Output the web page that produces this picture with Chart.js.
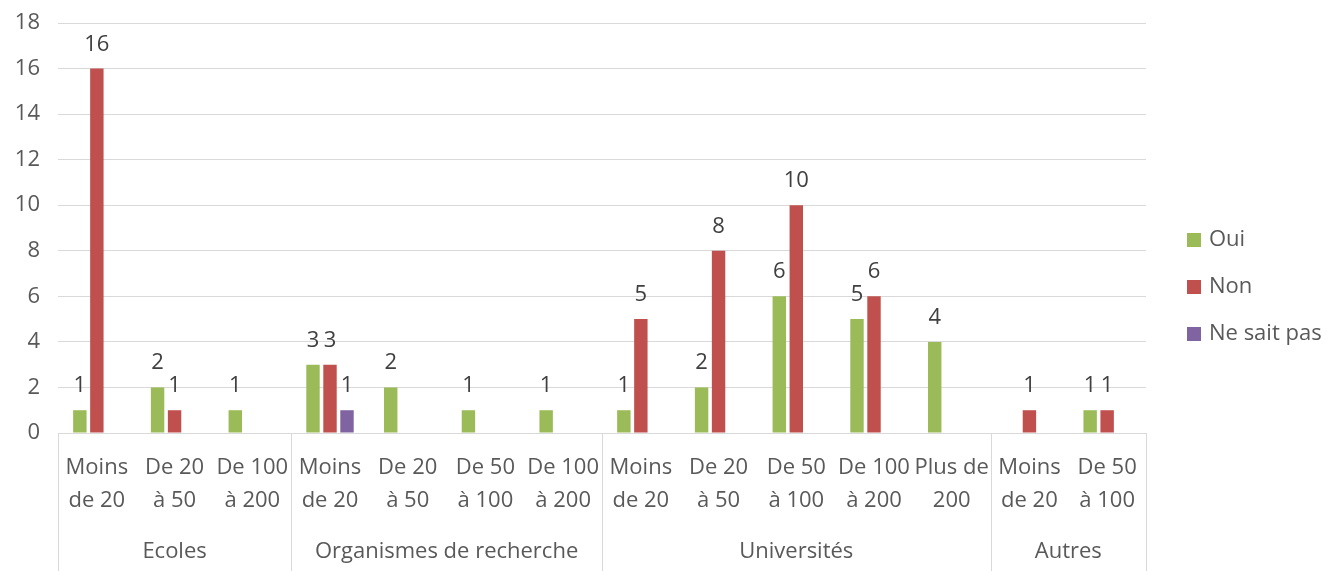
<!DOCTYPE html>
<html>
<head>
<meta charset="utf-8">
<script src="https://cdn.jsdelivr.net/npm/chart.js@4"></script>
<style>
  html, body { margin: 0; padding: 0; background: #fff; }
  #wrap { width: 1337px; height: 571px; }
</style>
</head>
<body>
<div id="wrap"><canvas id="chart" width="1337" height="571"></canvas></div>
<script>
// Sample data
const categories = [
  ["Moins", "de 20"], ["De 20", "à 50"], ["De 100", "à 200"],
  ["Moins", "de 20"], ["De 20", "à 50"], ["De 50", "à 100"], ["De 100", "à 200"],
  ["Moins", "de 20"], ["De 20", "à 50"], ["De 50", "à 100"], ["De 100", "à 200"], ["Plus de", "200"],
  ["Moins", "de 20"], ["De 50", "à 100"],
];
const groups = ["Ecoles", "Organismes de recherche", "Universités", "Autres"];
const groupSizes = [3, 4, 5, 2];

const ouiData = [1, 2, 1, 3, 2, 1, 1, 1, 2, 6, 5, 4, null, 1];
const nonData = [16, 1, null, 3, null, null, null, 5, 8, 10, 6, null, 1, 1];
const nspData = [null, null, null, 1, null, null, null, null, null, null, null, null, null, null];

const seriesNames = ["Oui", "Non", "Ne sait pas"];
const seriesColors = ["#9BBB59", "#C0504D", "#8064A2"];

const FONT = "'Open Sans', 'Noto Sans', sans-serif";
const FS = 22;
const TEXT = "#595959";
const LINE = "#d9d9d9";

// draws value labels, two-level x axis and legend
const extrasPlugin = {
  id: "extras",
  afterDatasetsDraw(chart) {
    const ctx = chart.ctx;
    ctx.save();
    ctx.font = FS + "px " + FONT;
    ctx.fillStyle = "#404040";
    ctx.textAlign = "center";
    ctx.textBaseline = "alphabetic";
    chart.data.datasets.forEach((ds, i) => {
      const meta = chart.getDatasetMeta(i);
      meta.data.forEach((bar, j) => {
        if (ds.data[j] == null) return;
        ctx.fillText(String(ds.data[j]), bar.x, bar.y - 18);
      });
    });
    ctx.restore();
  },
  afterDraw(chart) {
    const ctx = chart.ctx;
    const x = chart.scales.x;
    const area = chart.chartArea;
    const bottom = chart.height;
    ctx.save();

    // separators
    ctx.strokeStyle = LINE;
    ctx.lineWidth = 1;
    const step = (area.right - area.left) / categories.length;
    let idx = 0;
    const bounds = [0];
    groupSizes.forEach((n) => { idx += n; bounds.push(idx); });
    bounds.forEach((b) => {
      const px = Math.round(area.left + b * step) + 0.5;
      ctx.beginPath();
      ctx.moveTo(px, area.bottom);
      ctx.lineTo(px, bottom);
      ctx.stroke();
    });

    // category labels
    ctx.font = FS + "px " + FONT;
    ctx.fillStyle = TEXT;
    ctx.textAlign = "center";
    ctx.textBaseline = "middle";
    categories.forEach((lab, i) => {
      const px = x.getPixelForValue(i);
      ctx.fillText(lab[0], px, area.bottom + 35);
      ctx.fillText(lab[1], px, area.bottom + 68);
    });

    // group labels
    groups.forEach((g, i) => {
      const px = area.left + ((bounds[i] + bounds[i + 1]) / 2) * step;
      ctx.fillText(g, px, area.bottom + 119);
    });

    // legend
    ctx.textAlign = "left";
    seriesNames.forEach((name, i) => {
      const cy = 240 + i * 47;
      ctx.fillStyle = seriesColors[i];
      ctx.fillRect(1187, cy - 7, 14, 14);
      ctx.fillStyle = TEXT;
      ctx.fillText(name, 1209, cy);
    });
    ctx.restore();
  },
};

function renderChart() {
  const ctx = document.getElementById("chart").getContext("2d");
  const allData = [ouiData, nonData, nspData];

  new Chart(ctx, {
    type: "bar",
    data: {
      labels: categories,
      datasets: seriesNames.map((name, i) => ({
        label: name,
        data: allData[i],
        backgroundColor: seriesColors[i],
        borderWidth: 0,
        categoryPercentage: 0.656,
        barPercentage: 0.79,
      })),
    },
    options: {
      responsive: false,
      animation: false,
      layout: { padding: { top: 23, right: 191, left: 0, bottom: 0 } },
      plugins: {
        legend: { display: false },
        tooltip: { enabled: false },
      },
      scales: {
        x: {
          grid: { display: false },
          border: { display: false },
          ticks: { display: false },
          afterFit(scale) { scale.height = 138; },
        },
        y: {
          min: 0,
          max: 18,
          ticks: {
            stepSize: 2,
            padding: 18,
            color: TEXT,
            font: { family: FONT, size: FS },
          },
          grid: { color: LINE, lineWidth: 1, drawTicks: false },
          border: { display: false },
          afterFit(scale) {
            scale.width = 58;
            scale.paddingTop = 0;
            scale.paddingBottom = 0;
          },
        },
      },
    },
    plugins: [extrasPlugin],
  });
}

document.addEventListener("DOMContentLoaded", renderChart);
</script>
</body>
</html>
